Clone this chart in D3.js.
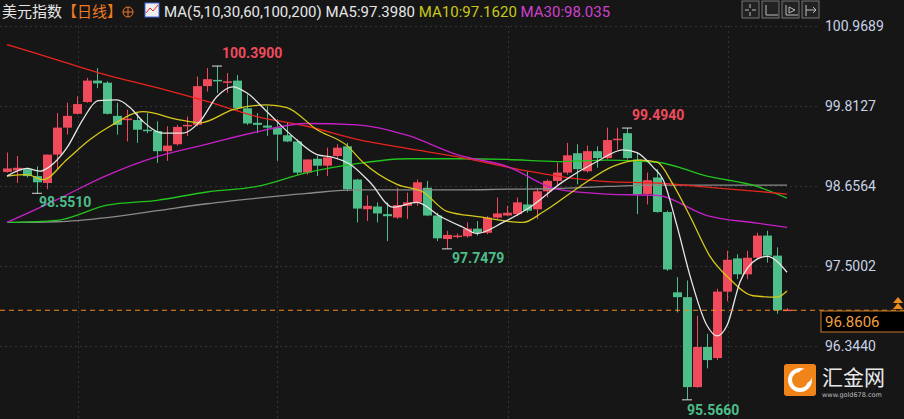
<!DOCTYPE html>
<meta charset="utf-8">
<style>
  body { margin: 0; background: #161616; }
  svg { display: block; font-family: "Noto Sans CJK SC", "DejaVu Sans", sans-serif; }
</style>
<svg width="904" height="419"></svg>
<script src="https://d3js.org/d3.v7.min.js"></script>
<script>
  // daily candles: open, high, low, close (red = up, green = down)
  var opens = [98.86,98.88,98.90,98.80,98.70,99.11,99.50,99.70,99.87,100.18,100.15,99.67,99.62,99.61,99.47,99.45,99.16,99.26,99.52,99.54,
    100.10,100.19,100.16,100.18,99.78,99.57,99.53,99.50,99.39,99.30,98.85,99.05,98.95,99.09,99.23,98.75,98.32,98.36,98.25,98.20,
    98.37,98.42,98.63,98.23,97.89,97.92,97.93,98.04,97.98,98.20,98.23,98.25,98.39,98.32,98.58,98.73,98.85,99.13,98.87,99.16,
    99.06,99.33,99.42,99.04,98.54,98.78,98.28,97.12,97.05,95.75,96.33,96.17,97.13,97.61,97.38,97.62,97.94,97.65,96.86];
  var highs = [99.14,99.09,98.92,98.94,99.11,99.71,99.86,99.95,100.22,100.36,100.17,99.86,99.76,99.71,99.71,99.59,99.52,99.54,99.66,100.24,
    100.36,100.39,100.29,100.26,99.98,99.71,99.81,99.62,99.57,99.33,99.04,99.09,99.21,99.26,99.28,98.76,98.52,98.42,98.42,98.63,
    98.56,98.75,98.73,98.27,98.01,97.97,98.13,98.15,98.22,98.49,98.37,98.49,98.87,98.63,98.75,98.99,99.28,99.26,99.24,99.23,
    99.50,99.50,99.494,99.14,98.85,98.90,98.30,97.34,97.29,96.78,96.52,97.17,97.72,97.67,97.72,97.98,98.01,97.77,96.89];
  var lows = [98.85,98.70,98.78,98.551,98.61,98.90,99.40,99.69,99.86,100.07,99.69,99.40,99.30,99.28,99.42,98.99,99.02,99.24,99.38,99.52,
    100.02,100.00,100.00,99.76,99.54,99.42,99.38,99.02,99.29,98.82,98.82,98.80,98.80,99.04,98.58,98.13,98.15,98.13,97.86,98.18,
    98.18,98.37,98.22,97.86,97.7479,97.90,97.91,97.94,97.96,98.18,98.22,98.22,98.27,98.18,98.49,98.66,98.82,98.68,98.85,98.92,
    99.04,99.18,99.04,98.25,98.39,98.27,97.43,96.83,95.566,95.74,96.02,96.14,96.99,97.31,97.31,97.60,97.55,96.81,96.85];
  var closes = [98.91,98.92,98.80,98.71,99.11,99.50,99.67,99.84,100.18,100.14,99.70,99.54,99.63,99.47,99.45,99.16,99.24,99.51,99.54,100.10,
    100.20,100.18,100.17,99.78,99.56,99.54,99.50,99.40,99.30,98.85,99.04,98.95,99.07,99.21,98.61,98.33,98.37,98.26,98.22,98.38,
    98.42,98.71,98.23,97.90,97.95,97.94,98.04,97.98,98.20,98.26,98.27,98.42,98.30,98.58,98.73,98.85,99.10,98.90,99.16,99.06,
    99.32,99.34,99.06,98.54,98.74,98.28,97.45,97.05,95.75,96.33,96.14,97.13,97.59,97.38,97.62,97.94,97.65,96.86,96.87];

  // moving averages: [candle index, value]
  var ma5 = [[0,98.80],[2,98.91],[3.3,98.87],[4.3,98.94],[6,99.21],[7.6,99.62],[9.1,99.89],[11,99.90],[12.3,99.79],[13.6,99.59],
    [15.6,99.42],[17.6,99.42],[19.3,99.59],[21,99.95],[22.6,100.09],[24,100.00],[26,99.73],[28.6,99.37],[31,99.11],[32.6,99.07],
    [34.3,98.97],[36.3,98.71],[38.6,98.35],[41,98.42],[43.3,98.22],[45.6,98.06],[47,97.97],[49.6,98.13],[52.3,98.35],[55.6,98.72],
    [59,99.01],[61.6,99.18],[63,99.14],[64.6,98.93],[65.6,98.75],[67,98.08],[68.3,97.36],[70,96.64],[71,96.49],[72,96.64],
    [73.3,97.27],[75,97.60],[76,97.64],[78,97.41]];
  var ma10 = [[0,98.80],[2,98.82],[3.6,98.75],[6,99.04],[8.3,99.33],[10.3,99.52],[13.6,99.73],[17,99.62],[19.3,99.57],[22.6,99.76],
    [26,99.83],[28,99.79],[31,99.47],[34,99.24],[35.6,99.00],[39,98.68],[41.6,98.57],[44,98.29],[47.3,98.21],[51.6,98.13],
    [53.6,98.28],[57.3,98.65],[60.6,98.94],[63.3,99.03],[65,99.00],[66.6,98.68],[68.3,98.22],[70.3,97.64],[72.3,97.31],[74.6,97.07],
    [77,97.05],[78,97.14]];
  var maIdx = [0,5,10,15,20,25,30,35,40,45,50,55,60,65,70,75,78];
  var ma30 = [98.13,98.46,98.81,99.08,99.26,99.44,99.56,99.54,99.39,99.11,98.94,98.61,98.54,98.52,98.23,98.12,98.06];
  var ma60 = [98.13,98.16,98.38,98.45,98.57,98.65,98.85,98.98,99.05,99.05,99.04,99.01,99.03,99.00,98.80,98.65,98.48];
  var ma100 = [100.70,100.48,100.26,100.08,99.88,99.66,99.52,99.33,99.20,99.08,98.93,98.80,98.72,98.70,98.64,98.58,98.54];
  var ma200 = [98.13,98.14,98.20,98.30,98.40,98.48,98.55,98.60,98.60,98.60,98.61,98.62,98.65,98.67,98.67,98.67,98.67];
  var yTicks = [100.9689, 99.8127, 98.6564, 97.5002, 96.3440];
  var lastPrice = 96.8606;

  var svg = d3.select("svg");
  var up = "#ef4b5c", down = "#4dbe8a";

  var x = d3.scaleLinear().domain([0, 78]).range([7, 787]);
  var y = d3.scaleLinear().domain([96.3440, 100.9689]).range([346, 26]);

  // grid
  svg.append("g").selectAll("line").data(yTicks).enter().append("line")
    .attr("x1", 0).attr("x2", 818)
    .attr("y1", function(d) { return Math.round(y(d)) + 0.5; })
    .attr("y2", function(d) { return Math.round(y(d)) + 0.5; })
    .attr("stroke", "#333").attr("stroke-dasharray", "2,3");
  svg.append("g").selectAll("line").data([7.1, 27, 50.1, 72.1]).enter().append("line")
    .attr("x1", function(d) { return Math.round(x(d)) + 0.5; })
    .attr("x2", function(d) { return Math.round(x(d)) + 0.5; })
    .attr("y1", 26).attr("y2", 419)
    .attr("stroke", "#333").attr("stroke-dasharray", "2,3");

  // axis labels
  svg.append("g").selectAll("text").data(yTicks).enter().append("text")
    .attr("x", 825).attr("y", function(d) { return y(d) + 5; })
    .attr("fill", "#c9d3e6").attr("font-size", 14).attr("font-family", "Roboto, sans-serif")
    .text(function(d) { return d.toFixed(4); });

  // candles
  var idx = d3.range(opens.length);
  var c = svg.append("g").selectAll("g").data(idx).enter().append("g");
  c.append("line")
    .attr("x1", function(i) { return Math.round(x(i)) + 0.5; })
    .attr("x2", function(i) { return Math.round(x(i)) + 0.5; })
    .attr("y1", function(i) { return y(highs[i]); })
    .attr("y2", function(i) { return y(lows[i]); })
    .attr("stroke", function(i) { return closes[i] >= opens[i] ? up : down; });
  c.append("rect")
    .attr("x", function(i) { return Math.round(x(i)) - 4; })
    .attr("width", 9)
    .attr("y", function(i) { return y(Math.max(opens[i], closes[i])); })
    .attr("height", function(i) { return Math.max(1.5, Math.abs(y(opens[i]) - y(closes[i]))); })
    .attr("fill", function(i) { return closes[i] >= opens[i] ? up : down; });

  // MA lines
  var line = d3.line().x(function(d) { return x(d[0]); }).y(function(d) { return y(d[1]); }).curve(d3.curveMonotoneX);
  function zipMa(v) { return maIdx.map(function(k, j) { return [k, v[j]]; }); }
  [[ma200, "#8a8a8a"], [ma60, "#22c41e"], [ma100, "#e8241e"], [ma30, "#c81fc8"], [ma10, "#d6c91a", true], [ma5, "#e6e6e6", true]]
    .forEach(function(m) {
      svg.append("path").datum(m[2] ? m[0] : zipMa(m[0]))
        .attr("d", line).attr("fill", "none").attr("stroke", m[1]).attr("stroke-width", 1.3);
    });

  // extreme labels and markers
  var marks = [[21, highs[21], "100.3900", up, -8, 5], [62, highs[62], "99.4940", up, -8, 5],
    [3, lows[3], "98.5510", down, 14, 2], [44, lows[44], "97.7479", down, 14, 5], [68, lows[68], "95.5660", down, 15, 0]];
  marks.forEach(function(m) {
    var px = x(m[0]), py = y(m[1]);
    svg.append("line").attr("x1", px - 5).attr("x2", px + 5).attr("y1", py).attr("y2", py).attr("stroke", "#ddd");
    svg.append("text").attr("x", px + m[5]).attr("y", py + m[4]).attr("fill", m[3])
      .attr("font-size", 14).attr("font-weight", "bold").attr("font-family", "Roboto, sans-serif").text(m[2]);
  });

  // last price
  svg.append("line").attr("x1", 0).attr("x2", 904).attr("y1", y(lastPrice)).attr("y2", y(lastPrice))
    .attr("stroke", "#f08a1c").attr("stroke-dasharray", "5,4").attr("stroke-width", 1.2);
  svg.append("rect").attr("x", 821).attr("y", 311).attr("width", 90).attr("height", 21)
    .attr("fill", "#000").attr("stroke", "#c97a2a");
  svg.append("text").attr("x", 825).attr("y", 327).attr("fill", "#f0a040").attr("font-size", 15)
    .attr("font-family", "Roboto, sans-serif").text(lastPrice.toFixed(4));
  svg.append("path").attr("d", "M893,309 l5,-6 l5,6 z M893,303 l5,-6 l5,6 z").attr("fill", "#f08a1c");

  // header
  var h = svg.append("text").attr("x", 2).attr("y", 17).attr("font-size", 15);
  h.append("tspan").attr("fill", "#e6e6e6").text("美元指数");
  h.append("tspan").attr("fill", "#f07a20").text("【日线】");
  svg.append("circle").attr("cx", 128).attr("cy", 12).attr("r", 5).attr("fill", "none").attr("stroke", "#f07a20");
  svg.append("path").attr("d", "M123,12 h10 M128,7 v10").attr("stroke", "#f07a20");
  svg.append("rect").attr("x", 145).attr("y", 3).attr("width", 14).attr("height", 14).attr("fill", "#eee").attr("stroke", "#4466dd");
  svg.append("path").attr("d", "M146,13 l4,-5 l3,3 l5,-6").attr("stroke", "#e22").attr("fill", "none");
  var h2 = svg.append("text").attr("x", 164).attr("y", 17).attr("font-size", 15).attr("font-family", "Roboto, sans-serif");
  h2.append("tspan").attr("fill", "#e6e6e6").text("MA(5,10,30,60,100,200)  MA5:97.3980  ");
  h2.append("tspan").attr("fill", "#c8c81a").text("MA10:97.1620  ");
  h2.append("tspan").attr("fill", "#d040d0").text("MA30:98.035");

  // toolbar icons
  [742, 762, 782, 802].forEach(function(px) {
    svg.append("rect").attr("x", px).attr("y", 1).attr("width", 17).attr("height", 17)
      .attr("fill", "#222").attr("stroke", "#777");
  });
  svg.append("path").attr("stroke", "#bbb").attr("fill", "none")
    .attr("d", "M745,10 h4 M752,10 h4 M750,4 v4 M750,12 v4 M766,5 v10 h12 M786,5 v10 h12 M789,7 l6,3 -6,3 z M806,5 v11 M806,10 h10 l-3,-3 M816,10 l-3,3");

  // logo
  svg.append("rect").attr("x", 784).attr("y", 364).attr("width", 32).attr("height", 32).attr("rx", 3).attr("fill", "#f08418");
  svg.append("circle").attr("cx", 800).attr("cy", 380).attr("r", 10).attr("fill", "none").attr("stroke", "#fff").attr("stroke-width", 4);
  svg.append("circle").attr("cx", 805).attr("cy", 376).attr("r", 7).attr("fill", "#f08418");
  svg.append("text").attr("x", 822).attr("y", 385).attr("fill", "#e8e8e8").attr("font-size", 21).text("汇金网");
  svg.append("text").attr("x", 822).attr("y", 397).attr("fill", "#bbb").attr("font-size", 6.5).attr("font-family", "DejaVu Sans").text("www.gold678.com");
</script>
